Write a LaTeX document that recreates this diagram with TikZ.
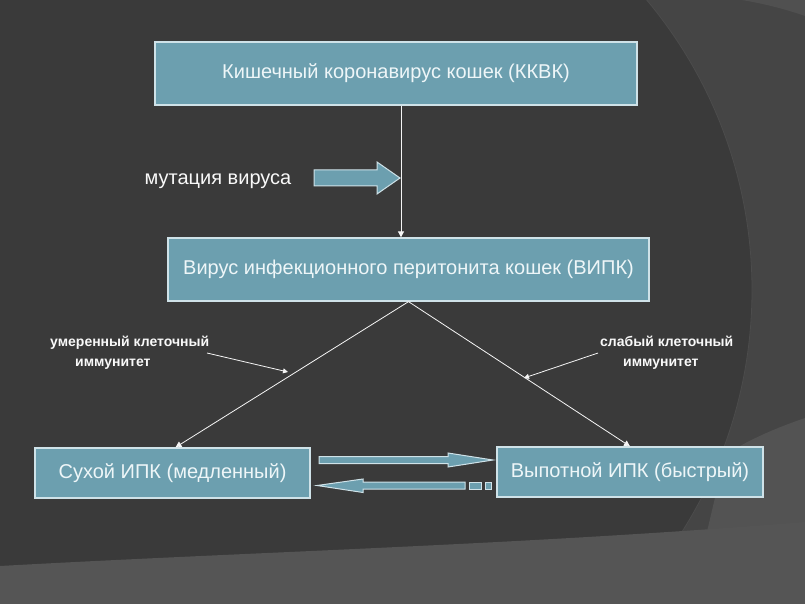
\documentclass[tikz,border=0pt]{standalone}
\usepackage{fontspec}
\setmainfont{Liberation Sans}
\usetikzlibrary{arrows.meta}
\definecolor{bgdark}{HTML}{3A3A3A}
\definecolor{bgmid}{HTML}{454545}
\definecolor{bglight}{HTML}{555555}
\definecolor{boxfill}{HTML}{6C9FAF}
\definecolor{boxline}{HTML}{CFE2E8}
\definecolor{boxtext}{HTML}{EEF6F8}
\tikzset{
  box/.style={draw=boxline, line width=1.3pt, fill=boxfill, text=boxtext,
    inner sep=0pt, font=\fontsize{20}{24}\selectfont},
  conn/.style={draw=white!92!gray, line width=0.8pt, -{Triangle[width=6pt,length=6pt]}},
  blockarrow/.style={draw=boxline, line width=1pt, fill=boxfill},
  lbl/.style={text=white!95!gray, inner sep=0pt},
}
\begin{document}
\begin{tikzpicture}[x=1pt, y=-1pt]
\useasboundingbox (0,0) rectangle (805,604);
% background
\begin{scope}
\clip (0,0) rectangle (805,604);
\fill[bgmid] (0,0) rectangle (805,604);
\fill[bgdark] (300,290) circle (452pt);
\draw[black!70, line width=0.8pt] (300,290) circle (452pt);
\fill[bglight!70!bgmid] (742,0) .. controls (765,4) and (785,9) .. (805,16) -- (805,0) -- cycle;
\fill[bglight!85!bgmid] (805,418) .. controls (770,430) and (745,442) .. (725,455) -- (690,604) -- (805,604) -- cycle;
\fill[bglight] (0,566) .. controls (250,552) and (520,545) .. (805,522) -- (805,604) -- (0,604) -- cycle;
\end{scope}

% boxes
\node[box, minimum width=482pt, minimum height=63pt] (kkvk) at (396,73.5) {Кишечный коронавирус кошек (ККВК)};
\node[box, minimum width=481pt, minimum height=63pt] (vipk) at (408.5,269.5) {Вирус инфекционного перитонита кошек (ВИПК)};
\node[box, minimum width=275pt, minimum height=50pt] (dry) at (172.5,473) {Сухой ИПК (медленный)};
\node[box, minimum width=266pt, minimum height=50pt] (wet) at (630,472) {Выпотной ИПК (быстрый)};

% labels
\node[lbl, font=\fontsize{20}{24}\selectfont] (mut) at (218,181) {мутация вируса};
\node[lbl, font=\bfseries\fontsize{14}{20}\selectfont, align=left, anchor=north west] (modimm) at (50,336) {умеренный клеточный\\\hspace*{25pt}иммунитет};
\node[lbl, font=\bfseries\fontsize{14}{20}\selectfont, align=left, anchor=north west] (weakimm) at (600,336) {слабый клеточный\\\hspace*{23pt}иммунитет};

% connectors
\draw[conn] ([xshift=5pt]kkvk.south) -- ([xshift=5pt]kkvk.south |- vipk.north);
\draw[conn] (vipk.south) -- ([xshift=3pt]dry.north);
\draw[conn] (vipk.south) -- (wet.north);
\coordinate (modtip) at (288,372);
\coordinate (weaktip) at (524,378);
\draw[conn, -{Triangle[width=5pt,length=5pt]}] (207,353) -- (modtip);
\draw[conn, -{Triangle[width=5pt,length=5pt]}] (598,353) -- (weaktip);

% block arrows
\draw[blockarrow] (314,170) -- (377,170) -- (377,162) -- (400,178) -- (377,194) -- (377,186) -- (314,186) -- cycle;
\draw[blockarrow] (319,456.5) -- (448,456.5) -- (448,453) -- (493,460) -- (448,467) -- (448,463.5) -- (319,463.5) -- cycle;
\draw[blockarrow] (465,482) -- (363,482) -- (363,479) -- (317,485.5) -- (363,492.5) -- (363,489) -- (465,489) -- cycle;
\draw[blockarrow] (469,482) rectangle (481,489);
\draw[blockarrow] (485,482) rectangle (491,489);
\end{tikzpicture}
\end{document}
